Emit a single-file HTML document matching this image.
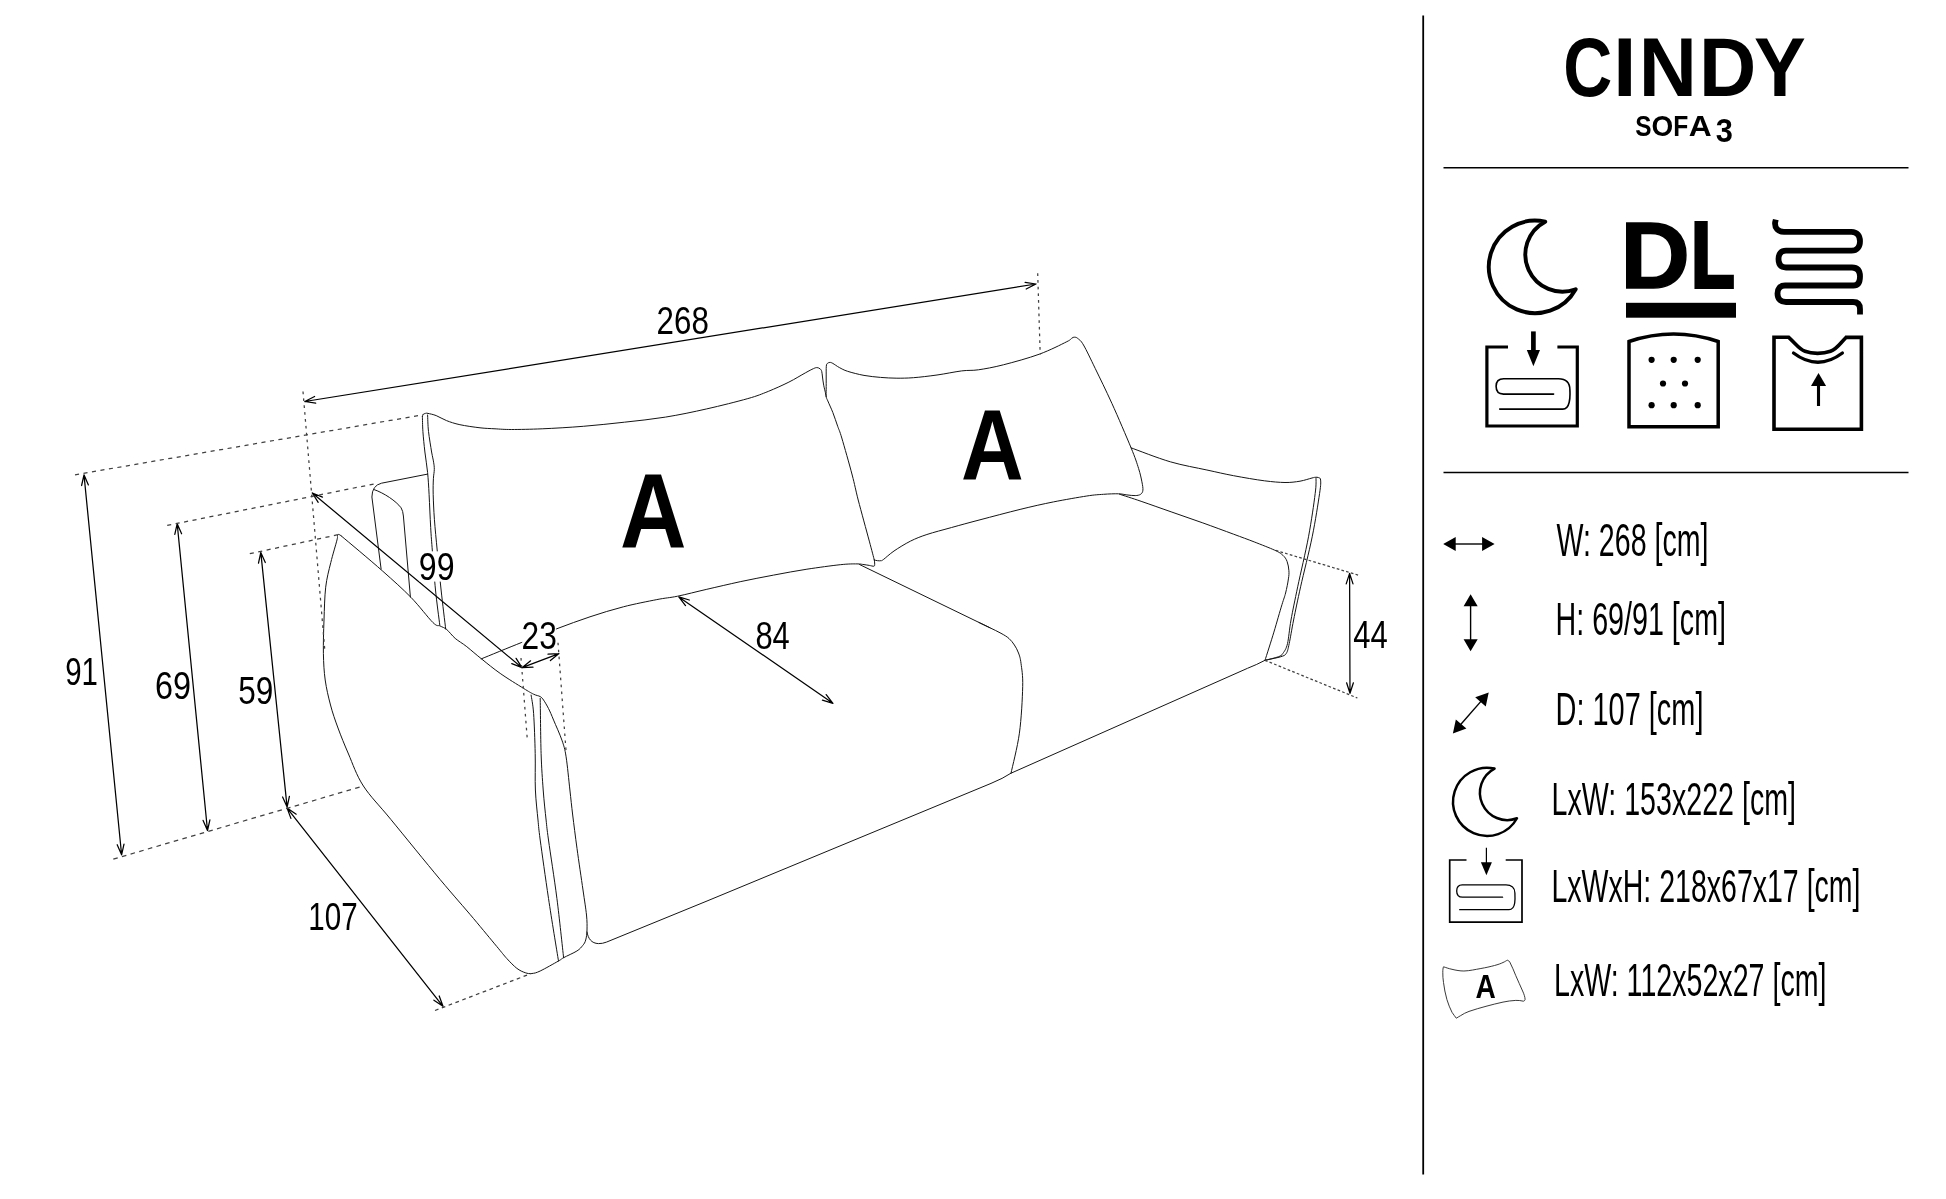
<!DOCTYPE html>
<html lang="en">
<head>
<meta charset="utf-8">
<title>CINDY SOFA 3</title>
<style>
html,body{margin:0;padding:0;background:#fff;}
body{width:1946px;height:1199px;overflow:hidden;position:relative;}
svg{position:absolute;left:0;top:0;display:block;}
text{font-family:"Liberation Sans",sans-serif;fill:#000;}
.b{font-weight:bold;}
.ln{fill:none;stroke:#151515;stroke-width:1.0;stroke-linecap:round;stroke-linejoin:round;}
.dim{fill:none;stroke:#000;stroke-width:1.25;stroke-linecap:round;stroke-linejoin:round;}
.dot{fill:none;stroke:#404040;stroke-width:1.25;}
.ic{fill:none;stroke:#000;}
</style>
</head>
<body>
<svg width="1946" height="1199" viewBox="0 0 1946 1199" style="filter:grayscale(1)">
<rect width="1946" height="1199" fill="#fff"/>

<!-- ===== RIGHT PANEL ===== -->
<g id="panel">
<line x1="1423.2" y1="15.5" x2="1423.2" y2="1174.5" stroke="#000" stroke-width="1.8"/>
<line x1="1443.5" y1="167.8" x2="1908.5" y2="167.8" stroke="#000" stroke-width="1.5"/>
<line x1="1443.5" y1="472.5" x2="1908.5" y2="472.5" stroke="#000" stroke-width="1.5"/>
<text class="b"><tspan x="1563.22" y="96.30" font-size="83.1" textLength="49.03" lengthAdjust="spacingAndGlyphs">C</tspan><tspan x="1613.02" y="96.30" font-size="83.1" textLength="23.54" lengthAdjust="spacingAndGlyphs">I</tspan><tspan x="1638.70" y="96.30" font-size="83.1" textLength="58.22" lengthAdjust="spacingAndGlyphs">N</tspan><tspan x="1698.99" y="96.30" font-size="83.1" textLength="57.26" lengthAdjust="spacingAndGlyphs">D</tspan><tspan x="1754.08" y="96.30" font-size="83.1" textLength="51.76" lengthAdjust="spacingAndGlyphs">Y</tspan></text>
<text class="b"><tspan x="1635.29" y="135.70" font-size="29.5" textLength="16.26" lengthAdjust="spacingAndGlyphs">S</tspan><tspan x="1651.56" y="135.70" font-size="29.5" textLength="21.71" lengthAdjust="spacingAndGlyphs">O</tspan><tspan x="1673.25" y="135.70" font-size="29.5" textLength="15.06" lengthAdjust="spacingAndGlyphs">F</tspan><tspan x="1688.65" y="135.70" font-size="29.5" textLength="21.74" lengthAdjust="spacingAndGlyphs">A</tspan><tspan font-size="29.5"> </tspan><tspan x="1715.79" y="141.70" font-size="32.3" textLength="17.12" lengthAdjust="spacingAndGlyphs">3</tspan></text>
</g>

<!-- ===== LEGEND TEXT ===== -->
<g id="legend" font-size="46">
<text x="1556.5" y="555.6" textLength="152" lengthAdjust="spacingAndGlyphs">W: 268 [cm]</text>
<text x="1555.5" y="635.1" textLength="170.5" lengthAdjust="spacingAndGlyphs">H: 69/91 [cm]</text>
<text x="1555.5" y="724.7" textLength="148" lengthAdjust="spacingAndGlyphs">D: 107 [cm]</text>
<text x="1551.5" y="815.1" textLength="244.5" lengthAdjust="spacingAndGlyphs">LxW: 153x222 [cm]</text>
<text x="1551.5" y="902.2" textLength="309" lengthAdjust="spacingAndGlyphs">LxWxH: 218x67x17 [cm]</text>
<text x="1554" y="995.8" textLength="272.5" lengthAdjust="spacingAndGlyphs">LxW: 112x52x27 [cm]</text>
</g>

<g id="icons-top">
<!-- moon -->
<path d="M1545.2 221.7 A46.3 46.3 0 1 0 1575.7 289.2 A37.1 37.1 0 0 1 1545.2 221.7 Z" fill="none" stroke="#000" stroke-width="3.9" stroke-linejoin="round"/>
<!-- DL -->
<text class="b" stroke="#000" stroke-linejoin="miter"><tspan x="1620.3" y="288.2" font-size="95.3" textLength="69.8" lengthAdjust="spacingAndGlyphs" stroke-width="1.4">D</tspan><tspan x="1691.2" y="286.8" font-size="92.2" textLength="43.3" lengthAdjust="spacingAndGlyphs" stroke-width="4">L</tspan></text>
<rect x="1626" y="302.8" width="110" height="14.9" fill="#000"/>
<!-- spring -->
<path d="M1775.8 219.6 L1775.1 222.5 C1774.6 228.2 1778 231.8 1784 231.8 H1851.5 C1857 231.8 1860 235.5 1860 241.2 C1860 247 1857 250.7 1851.500 250.7 H1786 C1781 250.7 1778.5 254 1778.5 259.100 C1778.5 264.500 1781 267.5 1786 267.5 H1852 C1857.5 267.5 1860 270.5 1860 276.500 C1860 282.500 1858 285.5 1853.500 285.5 H1785 C1780 285.5 1777.500 288.500 1777.500 293.500 C1777.500 299 1780.500 302 1786 302 H1853 C1858 302 1860 304.500 1860 309 V314.500" fill="none" stroke="#000" stroke-width="5.8" stroke-linejoin="round"/>
<!-- box with arrow -->
<path d="M1508 347 H1486.900 V426 H1577.300 V347 H1557.400" fill="none" stroke="#000" stroke-width="3.2"/>
<path d="M1533.400 331.400 V352" fill="none" stroke="#000" stroke-width="4.7"/>
<path d="M1526.800 350 H1540 L1533.400 366.300 Z" fill="#000"/>
<path d="M1553.600 394.100 H1503.500 C1498.500 394.100 1496.100 391 1496.100 386.300 C1496.100 381.500 1498.500 378.800 1503.700 378.800 H1558.500 C1566 378.800 1569.900 383 1569.900 390.100 C1570.200 396 1570 399 1569.200 402.200 C1568.200 406.500 1566.500 409.100 1562.800 409.100 H1499.700" fill="none" stroke="#000" stroke-width="1.6" stroke-linecap="round"/>
<!-- foam -->
<path d="M1629 341.500 Q1673.600 326.500 1718.200 341.500 V426.800 H1629 Z" fill="none" stroke="#000" stroke-width="3.5" stroke-linejoin="miter"/>
<g fill="#000">
<circle cx="1651.600" cy="359.800" r="3.100"/><circle cx="1673.700" cy="359.800" r="3.100"/><circle cx="1697.700" cy="359.800" r="3.100"/>
<circle cx="1663" cy="383.500" r="3.100"/><circle cx="1685" cy="383.500" r="3.100"/>
<circle cx="1651.600" cy="405.200" r="3.100"/><circle cx="1673.700" cy="405.200" r="3.100"/><circle cx="1697.700" cy="405.200" r="3.100"/>
</g>
<!-- shirt -->
<path d="M1774 337.300 H1788.700 C1796 344 1799 349 1805 351.300 C1812 354 1823 354 1830.500 351.300 C1837 349 1839.500 344 1846 337.400 H1861.400 V429.300 H1774 Z" fill="none" stroke="#000" stroke-width="3.600" stroke-linejoin="miter"/>
<path d="M1793.500 353 Q1817.900 371.500 1842.400 353" fill="none" stroke="#000" stroke-width="3.300" stroke-linecap="round"/>
<path d="M1818.500 406 V385" fill="none" stroke="#000" stroke-width="3.100"/>
<path d="M1811 386 H1826.100 L1818.500 373 Z" fill="#000"/>
</g>

<g id="icons-legend">
<!-- W -->
<path d="M1454 544 H1484" stroke="#000" stroke-width="1.400" fill="none"/>
<path d="M1443.200 544 L1455.700 537 V551 Z M1494.600 544 L1482.100 537 V551 Z" fill="#000"/>
<!-- H -->
<path d="M1470.600 605 V641" stroke="#000" stroke-width="1.400" fill="none"/>
<path d="M1470.600 594.300 L1463.600 606.300 H1477.700 Z M1470.600 651.200 L1463.600 639.200 H1477.700 Z" fill="#000"/>
<!-- D -->
<g transform="translate(1470.800 712.950) rotate(-48.800)">
<path d="M-17 0 H17" stroke="#000" stroke-width="1.400" fill="none"/>
<path d="M-27.200 0 L-14.700 -7 V7 Z M27.200 0 L14.700 -7 V7 Z" fill="#000"/>
</g>
<!-- moon small -->
<g transform="translate(1487.400 801.700) scale(0.7365) translate(-1535.500 -266.700)">
<path d="M1545.200 221.700 A46.300 46.300 0 1 0 1575.700 289.200 A37.100 37.100 0 0 1 1545.200 221.700 Z" fill="none" stroke="#000" stroke-width="3.400" stroke-linejoin="round"/>
</g>
<!-- box small -->
<path d="M1466.500 860 H1449.700 V922.100 H1522 V860 H1505.700" fill="none" stroke="#000" stroke-width="1.700"/>
<path d="M1486.400 847.700 V863" fill="none" stroke="#000" stroke-width="1.200"/>
<path d="M1480.900 862.300 H1491.900 L1486.400 875.300 Z" fill="#000"/>
<path d="M1502.600 897.200 H1462.500 C1458.500 897.200 1456.700 894.500 1456.700 891 C1456.700 887.300 1458.500 884.800 1462.200 884.800 H1506 C1511.500 884.800 1514.900 888 1514.900 893 C1515.100 897 1515.100 900 1514.700 903 C1514 907.500 1512.500 909.700 1509 909.700 H1459.700" fill="none" stroke="#000" stroke-width="1.300" stroke-linecap="round"/>
<!-- pillow small -->
<path d="M1443.500 966.800 C1446 967.500 1448 968.500 1452 969.300 C1456 970.300 1460 971 1463.900 971 C1470 970.800 1475 969.500 1480.900 968.500 C1486 967.600 1490 966.700 1494.500 965.500 C1498 964.600 1501 963.500 1503 962.500 C1505 961.700 1506 960.800 1507.300 960.200 C1508.500 960.400 1509 961 1509.800 962.100 C1512 966.500 1514 971 1515.800 975.700 C1518 981 1520.500 986 1522.600 991 C1524 994 1525 997 1525.100 999.500 C1524.800 1000.500 1524.300 1001 1523.400 1001.200 C1521 1000.600 1518.500 1000.300 1515.800 1000.400 C1511.500 1000.600 1507 1001.200 1503 1002.100 C1497 1003.400 1491.500 1004.800 1486 1006.300 C1480 1007.900 1474.500 1009.500 1469 1011.400 C1466 1012.500 1463 1014 1460.500 1015.700 C1459 1016.500 1457.500 1017.500 1456.300 1018.200 C1455 1016.500 1453.500 1014.500 1452 1012.300 C1450 1008.500 1448.300 1004 1446.900 999.500 C1445.300 994 1444.200 988 1443.500 982.500 C1443 979 1442.700 975.500 1442.800 972.300 C1442.800 970 1443 968 1443.500 966.800 Z" fill="none" stroke="#222" stroke-width="0.900" stroke-linejoin="round"/>
<text class="b" x="1475.400" y="997.700" font-size="33" textLength="20.300" lengthAdjust="spacingAndGlyphs">A</text>
</g>

<g id="sofa" class="ln">
<path d="M422.4 416.5 C422.5 416.1 422.7 414.9 423.2 414.4 C423.7 413.9 424.6 413.6 425.4 413.4 C426.2 413.2 426.2 413.0 428.0 413.4 C429.8 413.8 433.1 414.4 436.2 415.6 C439.3 416.8 442.6 419.1 446.5 420.6 C450.4 422.1 454.3 423.5 459.9 424.7 C465.5 425.9 474.1 427.1 480.0 427.8 C485.9 428.5 489.8 428.5 495.0 428.8 C500.2 429.1 503.5 429.5 511.4 429.5 C519.3 429.5 530.2 429.3 542.2 428.8 C554.2 428.3 569.6 427.4 583.3 426.3 C597.0 425.2 610.7 423.7 624.4 422.2 C638.1 420.7 651.8 419.3 665.5 417.1 C679.2 414.9 693.0 412.0 706.7 408.9 C720.4 405.8 737.5 401.5 747.8 398.6 C758.1 395.7 761.4 394.1 768.3 391.4 C775.1 388.6 782.7 385.2 788.9 382.1 C795.1 379.0 801.2 375.1 805.3 372.9 C809.4 370.6 811.5 369.5 813.5 368.6 C815.5 367.7 816.0 367.6 817.1 367.6 C818.2 367.6 819.2 368.2 820.0 368.8 C820.8 369.4 821.3 369.9 821.7 371.3 C822.1 372.7 822.2 374.7 822.5 377.0 C822.8 379.3 823.2 382.6 823.7 385.2 C824.2 387.8 825.0 390.7 825.4 392.6 C825.8 394.5 826.1 396.0 826.2 396.7"/>
<path d="M422.4 416.5 C422.5 419.0 422.5 425.5 422.9 431.4 C423.3 437.3 424.1 445.1 424.9 452.0 C425.7 458.9 426.9 465.4 427.6 472.5 C428.3 479.6 428.6 485.5 429.1 494.7 C429.6 503.9 430.1 518.1 430.7 527.6 C431.2 537.1 431.6 541.0 432.4 551.4 C433.2 561.8 434.3 577.7 435.5 590.0 C436.7 602.3 439.1 619.3 439.8 625.2"/>
<path d="M427.6 415.0 C427.8 417.7 427.8 425.2 428.5 431.4 C429.2 437.6 430.8 446.9 431.6 452.0 C432.5 457.1 433.2 459.3 433.6 462.2 C434.1 465.1 434.3 466.6 434.3 469.4 C434.3 472.1 433.6 474.5 433.4 478.7 C433.2 482.9 433.0 487.9 433.2 494.7 C433.4 501.5 433.7 509.8 434.4 519.3 C435.1 528.8 436.2 539.6 437.3 551.4 C438.4 563.2 439.7 577.1 441.1 590.0 C442.5 602.9 444.9 622.5 445.7 629.0"/>
<path d="M874.3 560.0 C874.4 560.7 874.8 563.1 874.7 564.1 C874.6 565.1 874.8 566.0 873.9 566.2 C873.0 566.4 870.9 565.7 869.3 565.4 C867.6 565.1 866.0 564.9 864.0 564.6 C862.0 564.4 861.0 563.9 857.0 563.9 C853.0 563.9 848.6 563.8 840.3 564.7 C831.9 565.6 818.0 567.5 806.9 569.2 C795.8 570.9 784.7 573.0 773.6 575.1 C762.5 577.2 751.3 579.3 740.2 581.7 C729.1 584.1 717.2 586.9 706.8 589.3 C696.4 591.7 685.9 594.5 677.6 596.2 C669.3 597.9 665.8 597.8 656.8 599.6 C647.8 601.4 634.5 603.9 623.4 606.8 C612.3 609.7 601.1 613.1 590.0 616.8 C578.9 620.5 568.1 624.5 556.7 628.8 C545.3 633.1 534.4 637.4 521.8 642.4 C509.2 647.4 488.0 656.1 481.2 658.9"/>
<path d="M874.3 560.0 C873.5 556.9 872.0 551.1 869.3 541.1 C866.6 531.1 861.1 511.0 858.2 500.0 C855.4 489.0 854.9 485.3 852.2 475.0 C849.5 464.7 844.2 446.1 841.8 438.0 C839.4 429.9 839.2 430.6 837.7 426.3 C836.2 422.0 834.4 416.6 832.8 412.4 C831.1 408.2 828.9 403.5 827.8 400.9 C826.7 398.3 826.5 398.6 826.2 396.7 C825.9 394.8 826.2 392.6 826.2 389.3 C826.2 386.0 826.2 380.8 826.2 377.0 C826.2 373.2 826.1 368.6 826.3 366.3 C826.5 364.0 826.8 364.0 827.4 363.4 C828.0 362.8 829.0 362.4 829.9 362.4 C830.8 362.4 831.2 362.5 832.8 363.4 C834.4 364.2 836.8 366.2 839.3 367.5 C841.8 368.8 843.5 370.0 847.6 371.3 C851.7 372.6 858.5 374.4 864.0 375.4 C869.5 376.4 875.0 376.9 880.5 377.4 C886.0 377.9 891.4 378.1 896.9 378.2 C902.4 378.2 906.7 378.2 913.4 377.7 C920.1 377.2 929.0 376.1 937.0 375.0 C945.0 373.9 954.8 371.8 961.7 370.9 C968.6 370.0 971.5 370.8 978.4 369.8 C985.3 368.8 993.2 367.4 1003.4 364.8 C1013.5 362.2 1028.7 358.1 1039.3 354.2 C1049.9 350.3 1061.4 344.4 1066.8 341.7 C1072.2 339.0 1070.5 338.9 1071.8 338.2 C1073.0 337.4 1073.3 337.2 1074.3 337.2 C1075.3 337.2 1076.2 337.1 1077.7 338.4 C1079.2 339.7 1080.6 340.0 1083.5 345.0 C1086.4 350.0 1090.5 358.7 1095.2 368.4 C1099.9 378.1 1105.9 390.2 1111.9 403.4 C1117.9 416.6 1126.5 436.8 1131.0 447.6 C1135.5 458.5 1136.8 462.8 1138.6 468.5 C1140.4 474.2 1141.2 478.2 1141.9 481.8 C1142.6 485.4 1143.1 488.1 1142.9 490.2 C1142.7 492.3 1141.9 493.4 1140.6 494.3 C1139.3 495.2 1137.5 495.5 1135.2 495.6 C1132.9 495.7 1129.7 495.2 1126.9 494.9 C1124.1 494.6 1122.4 493.9 1118.5 493.8 C1114.6 493.7 1108.8 493.9 1103.5 494.3 C1098.2 494.7 1095.1 494.7 1086.8 496.0 C1078.5 497.3 1064.6 499.7 1053.5 501.9 C1042.4 504.1 1032.3 506.4 1020.1 509.4 C1007.9 512.4 991.4 516.8 980.0 519.8 C968.6 522.8 960.5 525.0 951.6 527.5 C942.8 530.0 933.8 532.2 926.9 534.5 C920.0 536.8 916.0 538.4 910.5 541.1 C905.0 543.9 898.5 547.9 894.0 551.0 C889.5 554.1 885.5 558.0 883.3 559.6 C881.1 561.2 881.8 560.5 880.9 560.7 C880.0 560.9 878.7 560.8 877.6 560.7 C876.5 560.6 874.8 560.1 874.3 560.0"/>
<path d="M427.6 474.1 L381.5 483.2 Q372 485.5 371.9 497 L381.1 569"/>
<path d="M374.4 489.7 C384 493 396 501 401.1 507.8 Q403 511 403.4 516 L410.4 597"/>
<path d="M341.1 535.8 C340.7 535.6 339.2 534.4 338.6 534.4 C338.0 534.4 337.7 534.9 337.4 535.8 C337.1 536.7 338.1 535.4 337.0 539.9 C335.9 544.4 332.7 554.6 330.8 562.5 C328.9 570.4 326.8 577.6 325.7 587.2 C324.6 596.8 324.4 609.0 324.0 620.0 C323.6 631.0 323.2 643.4 323.4 653.4 C323.6 663.4 324.0 671.4 325.2 680.0 C326.4 688.6 328.4 697.0 330.5 705.0 C332.6 713.0 335.0 719.8 338.0 728.0 C341.0 736.2 344.3 744.3 348.5 754.0 C352.7 763.7 356.3 775.1 363.4 786.0 C370.5 796.9 378.1 803.9 390.9 819.5 C403.7 835.1 426.3 863.0 440.1 879.5 C453.9 896.0 464.1 907.3 473.5 918.5 C482.9 929.7 491.2 939.8 496.8 946.5 C502.4 953.2 503.5 954.9 506.8 958.5 C510.1 962.1 513.7 965.9 516.8 968.3 C519.9 970.7 522.7 971.8 525.2 972.7 C527.7 973.6 529.4 973.8 531.9 973.5 C534.4 973.2 535.8 973.1 540.2 971.0 C544.6 968.9 554.6 963.2 558.5 961.0 C562.4 958.8 560.5 959.4 563.6 957.7 C566.7 956.0 573.7 953.0 576.9 951.0 C580.1 949.0 581.2 947.3 582.7 945.5 C584.2 943.7 585.0 942.6 585.7 940.0 C586.4 937.4 586.9 934.2 587.0 930.0 C587.1 925.8 587.2 921.7 586.5 915.0 C585.8 908.3 584.6 901.1 583.0 890.0 C581.4 878.9 578.7 860.9 577.0 848.4 C575.3 835.9 573.9 824.7 572.7 815.0 C571.5 805.3 571.0 799.7 569.9 790.0 C568.8 780.3 567.4 765.1 566.1 756.8 C564.8 748.5 564.0 746.2 561.9 740.1 C559.8 734.0 555.8 725.4 553.6 720.1 C551.4 714.8 550.2 711.8 548.5 708.5 C546.8 705.2 545.0 702.1 543.6 700.1 C542.2 698.1 541.9 697.6 540.2 696.6 C538.5 695.6 536.4 695.6 533.6 694.2 C530.8 692.8 529.2 691.9 523.6 688.4 C518.0 684.9 507.1 678.3 500.2 673.4 C493.2 668.5 487.5 663.7 481.9 659.2 C476.3 654.8 471.2 650.2 466.8 646.7 C462.4 643.2 458.5 641.2 455.2 638.4 C451.9 635.5 449.3 631.7 446.8 629.6 C444.3 627.5 442.4 627.2 440.1 626.0 C437.8 624.8 437.8 627.3 432.9 622.5 C428.0 617.7 419.4 606.0 411.0 597.4 C402.6 588.8 393.8 581.0 382.2 570.7 C370.6 560.4 348.0 541.6 341.1 535.8"/>
<path d="M531.1 695.1 C531.5 698.1 532.9 703.7 533.6 713.4 C534.3 723.1 534.9 740.7 535.2 753.5 C535.5 766.3 534.9 778.9 535.4 790.0 C535.9 801.1 537.2 811.7 538.0 820.0 C538.8 828.3 538.5 826.9 540.2 840.0 C542.0 853.1 545.5 878.2 548.5 898.4 C551.5 918.6 556.8 950.6 558.5 961.0"/>
<path d="M540.2 698.4 C540.4 707.6 540.6 738.2 541.1 753.5 C541.6 768.8 542.4 778.9 543.2 790.0 C544.0 801.1 545.2 811.7 546.1 820.0 C547.0 828.3 546.7 826.9 548.5 840.0 C550.3 853.1 554.4 878.8 556.9 898.4 C559.4 918.0 562.5 947.8 563.6 957.7"/>
<path d="M587 932 C588 938.5 591.5 943.4 598.5 943.6 Q602.5 943.7 606.5 942.1 L708 900.6 L991 783.4 Q1003 778.5 1011 773.2"/>
<path d="M859.5 564.5 L990 627.8"/>
<path d="M979.0 622.5 C980.8 623.4 986.3 626.0 990.0 627.8 C993.7 629.6 997.8 631.5 1001.0 633.3 C1004.2 635.1 1006.8 636.5 1009.0 638.5 C1011.2 640.5 1012.8 642.6 1014.4 645.0 C1016.0 647.4 1017.4 650.0 1018.5 653.0 C1019.6 656.0 1020.3 657.7 1021.0 663.3 C1021.7 668.9 1023.0 675.0 1022.7 686.6 C1022.4 698.2 1021.4 718.8 1019.4 733.2 C1017.4 747.6 1012.4 766.5 1011.0 773.2"/>
<path d="M1011 773.2 L1247.5 668.3 Q1257 664.6 1265 660.3"/>
<path d="M1119.5 494.2 C1123.1 495.4 1132.4 498.3 1141.1 501.3 C1149.8 504.3 1161.6 508.5 1171.9 512.1 C1182.2 515.7 1192.5 519.2 1202.8 522.9 C1213.1 526.6 1225.0 531.0 1233.6 534.2 C1242.2 537.4 1247.3 539.2 1254.2 541.9 C1261.1 544.6 1269.9 548.0 1274.7 550.2 C1279.5 552.4 1280.8 553.4 1282.9 555.3 C1285.0 557.2 1286.1 558.9 1287.1 561.5 C1288.1 564.1 1288.7 567.8 1288.9 570.7 C1289.1 573.6 1289.0 575.2 1288.4 578.9 C1287.9 582.6 1286.7 588.7 1285.6 593.0 C1284.5 597.3 1284.0 598.0 1282.0 604.5 C1280.0 611.0 1276.7 622.8 1273.9 632.1 C1271.1 641.4 1266.5 655.6 1265.0 660.3"/>
<path d="M1131.0 447.8 C1137.5 450.1 1157.6 458.1 1170.3 461.8 C1183.0 465.5 1196.4 467.7 1206.9 470.0 C1217.5 472.3 1224.0 473.9 1233.6 475.7 C1243.2 477.5 1255.8 479.7 1264.4 480.8 C1273.0 481.9 1279.1 482.4 1285.0 482.5 C1290.9 482.6 1295.5 481.9 1300.0 481.2 C1304.5 480.4 1309.5 478.6 1312.0 478.0 C1314.5 477.4 1314.1 477.4 1315.2 477.3 C1316.3 477.2 1317.7 477.1 1318.6 477.6 C1319.5 478.1 1320.4 477.5 1320.6 480.1 C1320.8 482.7 1321.0 483.9 1319.6 493.4 C1318.2 502.8 1315.4 521.2 1312.2 536.8 C1309.0 552.4 1303.7 572.9 1300.6 586.8 C1297.5 600.7 1295.5 610.5 1293.6 620.0 C1291.7 629.5 1290.4 638.0 1289.2 643.6 C1288.0 649.2 1287.7 651.2 1286.3 653.4 C1284.9 655.6 1284.1 655.6 1280.6 656.8 C1277.0 657.9 1267.6 659.7 1265.0 660.3"/>
<path d="M1316.0 478.0 C1315.9 480.6 1316.5 483.6 1315.2 493.4 C1314.0 503.2 1311.4 521.2 1308.5 536.8 C1305.6 552.4 1300.6 572.9 1297.7 586.8 C1294.8 600.7 1292.7 610.5 1291.0 620.0 C1289.3 629.5 1288.8 638.0 1287.5 643.6 C1286.2 649.2 1284.4 651.2 1282.9 653.4 C1281.4 655.6 1281.3 655.6 1278.3 656.8 C1275.3 657.9 1267.2 659.7 1265.0 660.3"/>
</g>
<g id="dims" class="dim">
<path d="M304.8 401.5 L1036.0 284.0 M314.6 396.5 L304.8 401.5 L315.7 403.2 M1026.2 289.0 L1036.0 284.0 L1025.1 282.3"/>
<path d="M84.0 474.8 L121.6 854.8 M88.4 484.9 L84.0 474.8 L81.6 485.5 M117.2 844.7 L121.6 854.8 L124.0 844.1"/>
<path d="M177.2 523.7 L207.5 830.5 M181.6 533.8 L177.2 523.7 L174.8 534.4 M203.1 820.4 L207.5 830.5 L209.9 819.8"/>
<path d="M260.8 552.4 L287.1 807.1 M265.3 562.5 L260.8 552.4 L258.5 563.2 M282.6 797.0 L287.1 807.1 L289.4 796.3"/>
<path d="M287.1 808.1 L443.0 1006.3 M296.2 814.2 L287.1 808.1 L290.9 818.4 M433.9 1000.2 L443.0 1006.3 L439.2 996.0"/>
<path d="M312.3 493.0 L522.0 667.7 M322.5 497.1 L312.3 493.0 L318.2 502.3 M511.8 663.6 L522.0 667.7 L516.1 658.4"/>
<path d="M522.0 667.7 L559.0 653.6 M530.6 660.8 L522.0 667.7 L533.0 667.2 M550.4 660.5 L559.0 653.6 L548.0 654.1"/>
<path d="M678.8 596.9 L832.9 703.3 M689.3 600.0 L678.8 596.9 L685.5 605.6 M822.4 700.2 L832.9 703.3 L826.2 694.6"/>
<path d="M1349.6 573.4 L1350.0 693.3 M1353.0 583.9 L1349.6 573.4 L1346.2 583.9 M1346.6 682.8 L1350.0 693.3 L1353.4 682.8"/>
</g>
<g id="dots" class="dot">
<path d="M303.0 391.5 L324.7 649.0" stroke-dasharray="2.7 4.2"/>
<path d="M1037.7 273.3 L1040.2 354.5" stroke-dasharray="2.7 4"/>
<path d="M75.0 474.8 L423.0 414.8" stroke-dasharray="4.1 4.5"/>
<path d="M167.2 525.4 L377.0 483.4" stroke-dasharray="4.1 4.5"/>
<path d="M249.8 553.7 L338.0 534.7" stroke-dasharray="4.1 4.5"/>
<path d="M113.3 859.1 L363.4 786.0" stroke-dasharray="4.6 4.4"/>
<path d="M435.0 1010.5 L531.0 973.6" stroke-dasharray="3.7 3.6"/>
<path d="M521.0 658.0 L527.2 738.2" stroke-dasharray="2.6 4.4"/>
<path d="M558.0 642.7 L566.2 753.2" stroke-dasharray="2.6 4.4"/>
<path d="M1275.7 550.4 L1358.6 575.2" stroke-dasharray="2.7 2.2"/>
<path d="M1265.0 660.3 L1357.4 698.0" stroke-dasharray="2.7 2.2"/>
</g>
<g id="labelbg" fill="#fff">
<rect x="419.5" y="551.4" width="34.1" height="30.2"/>
<rect x="522.2" y="619.9" width="33.7" height="30.2"/>
</g>
<g id="labels" font-size="38">
<text x="656.6" y="333.6" textLength="52.2" lengthAdjust="spacingAndGlyphs">268</text>
<text x="65.2" y="685.0" textLength="32.7" lengthAdjust="spacingAndGlyphs">91</text>
<text x="155.1" y="699.3" textLength="36.0" lengthAdjust="spacingAndGlyphs">69</text>
<text x="238.3" y="703.9" textLength="35.1" lengthAdjust="spacingAndGlyphs">59</text>
<text x="308.3" y="929.7" textLength="49.3" lengthAdjust="spacingAndGlyphs">107</text>
<text x="418.8" y="580.0" textLength="35.7" lengthAdjust="spacingAndGlyphs">99</text>
<text x="521.5" y="648.5" textLength="35.3" lengthAdjust="spacingAndGlyphs">23</text>
<text x="755.4" y="649.4" textLength="34.3" lengthAdjust="spacingAndGlyphs">84</text>
<text x="1353.3" y="648.2" textLength="34.5" lengthAdjust="spacingAndGlyphs">44</text>
</g>
<text class="b" x="619.9" y="547.8" font-size="106" textLength="66.5" lengthAdjust="spacingAndGlyphs">A</text>
<text class="b" x="960.9" y="480.4" font-size="100" textLength="62.7" lengthAdjust="spacingAndGlyphs">A</text>
<!-- DIMS -->
</svg>
</body>
</html>
